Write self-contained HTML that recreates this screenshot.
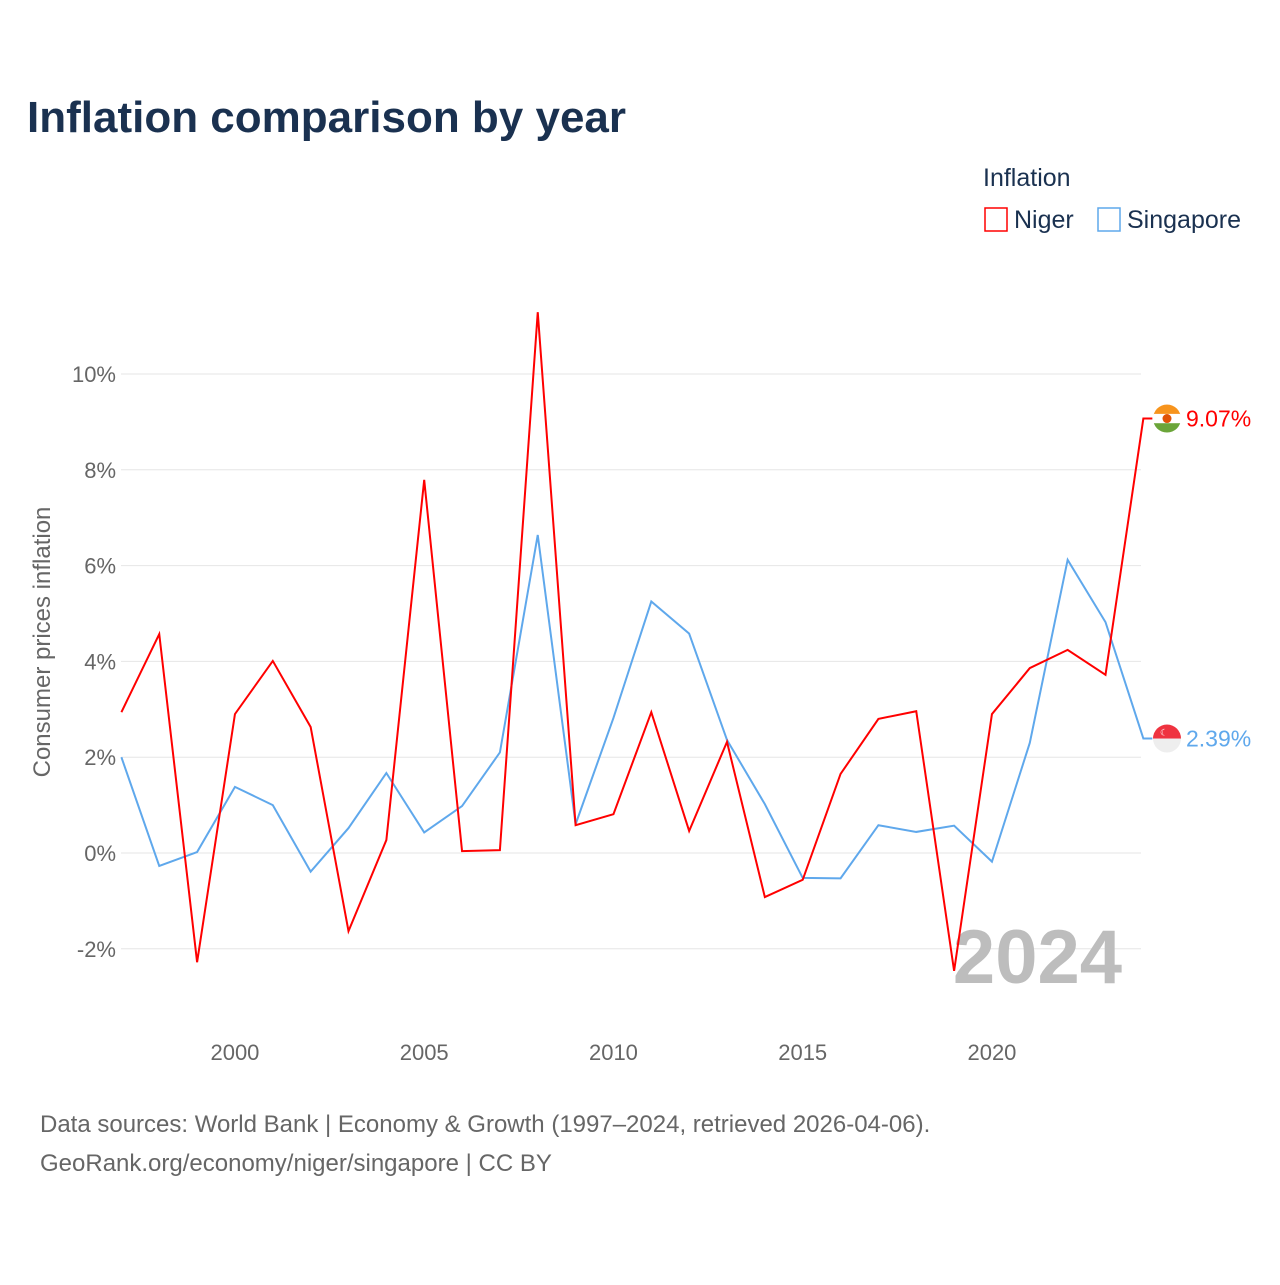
<!DOCTYPE html>
<html><head><meta charset="utf-8"><style>
body{margin:0;background:#fff;font-family:"Liberation Sans",sans-serif}
svg text{font-family:"Liberation Sans",sans-serif}
</style></head><body>
<svg width="1280" height="1280" viewBox="0 0 1280 1280" xmlns="http://www.w3.org/2000/svg">
<text x="27" y="132" font-size="44" font-weight="bold" fill="#1a3150">Inflation comparison by year</text>
<text x="983" y="186" font-size="25" fill="#1a3150">Inflation</text>
<g><rect x="985" y="208" width="22" height="23" fill="none" stroke="#f00" stroke-width="1.5"/><text x="1014" y="228" font-size="25" fill="#1a3150">Niger</text></g>
<g><rect x="1098" y="208" width="22" height="23" fill="none" stroke="#5fa8ec" stroke-width="1.5"/><text x="1127" y="228" font-size="25" fill="#1a3150">Singapore</text></g>
<g id="grid"></g>
<g id="yticks"></g>
<g id="xticks"></g>
<text transform="translate(50,642) rotate(-90)" text-anchor="middle" font-size="24" fill="#666">Consumer prices inflation</text>
<text x="1122" y="983" text-anchor="end" font-size="76" font-weight="bold" fill="#bdbdbd">2024</text>
<g id="series"></g>
<text x="40" y="1132" font-size="24" fill="#666">Data sources: World Bank | Economy &amp; Growth (1997–2024, retrieved 2026-04-06).</text>
<text x="40" y="1171" font-size="24" fill="#666">GeoRank.org/economy/niger/singapore | CC BY</text>
</svg>
<script>
const years=[1997,1998,1999,2000,2001,2002,2003,2004,2005,2006,2007,2008,2009,2010,2011,2012,2013,2014,2015,2016,2017,2018,2019,2020,2021,2022,2023,2024];
const niger=[2.94,4.57,-2.28,2.90,4.01,2.63,-1.63,0.27,7.79,0.04,0.06,11.29,0.58,0.81,2.94,0.46,2.32,-0.92,-0.56,1.65,2.80,2.96,-2.46,2.90,3.86,4.24,3.72,9.07];
const singapore=[2.00,-0.27,0.02,1.38,1.00,-0.39,0.52,1.67,0.43,0.98,2.10,6.64,0.60,2.82,5.25,4.58,2.36,1.02,-0.52,-0.53,0.58,0.44,0.57,-0.18,2.30,6.12,4.82,2.39];
const yTicks=[-2,0,2,4,6,8,10];
const xTicks=[2000,2005,2010,2015,2020];
const NS="http://www.w3.org/2000/svg";
const X=v=>121.4+(v-1997)*37.85;
const Y=v=>853-v*47.9;
function mk(tag,attrs,parent){const e=document.createElementNS(NS,tag);for(const k in attrs)e.setAttribute(k,attrs[k]);parent.appendChild(e);return e;}
const grid=document.getElementById('grid'),yt=document.getElementById('yticks'),xt=document.getElementById('xticks'),ser=document.getElementById('series');
yTicks.forEach(t=>{
  const l=mk('line',{x1:121,x2:1141,y1:Y(t),y2:Y(t),stroke:'#e6e6e6','stroke-width':1},grid);
  
  
  const tx=mk('text',{x:116,y:Y(t)+8,'text-anchor':'end','font-size':22,fill:'#666'},yt);
  tx.textContent=t+'%';
  
  
});
xTicks.forEach(t=>{
  const tx=mk('text',{x:X(t),y:1060,'text-anchor':'middle','font-size':22,fill:'#666'},xt);
  tx.textContent=t;
  
  
});
function draw(vals,color,name,fl){
  const pts=vals.map((v,i)=>X(years[i])+','+Y(v));
  const last=vals[vals.length-1],ly=Y(last),lx=X(years[years.length-1]);
  pts.push((lx+9)+','+ly);
  const p=mk('polyline',{points:pts.join(' '),fill:'none',stroke:color,'stroke-width':2,'stroke-linejoin':'miter'},ser);
  
  
  const g=mk('g',{},ser);
  
  
  mk('clipPath',{id:'c'+name},g).appendChild(document.createElementNS(NS,'circle'));
  const cp=g.querySelector('clipPath circle');cp.setAttribute('cx',1167);cp.setAttribute('cy',ly);cp.setAttribute('r',14);
  fl.forEach((c,i)=>mk('rect',{x:1153,y:ly-14+i*28/fl.length,width:28,height:28/fl.length+0.5,fill:c,'clip-path':'url(#c'+name+')'},g));
  if(name==='niger')mk('circle',{cx:1167,cy:ly,r:4.5,fill:'#e05206'},g);
  if(name==='singapore')mk('text',{x:1160,y:ly-3,'font-size':9,fill:'#fff'},g).textContent='☾';
  const t=mk('text',{x:1186,y:ly+8,'font-size':23,fill:color},ser);
  t.textContent=last.toFixed(2)+'%';
  
  
}
draw(singapore,'#5fa8ec','singapore',['#ef3340','#eeeeee']);
draw(niger,'#ff0000','niger',['#f7941d','#ffffff','#6ba539']);
</script>
</body></html>
